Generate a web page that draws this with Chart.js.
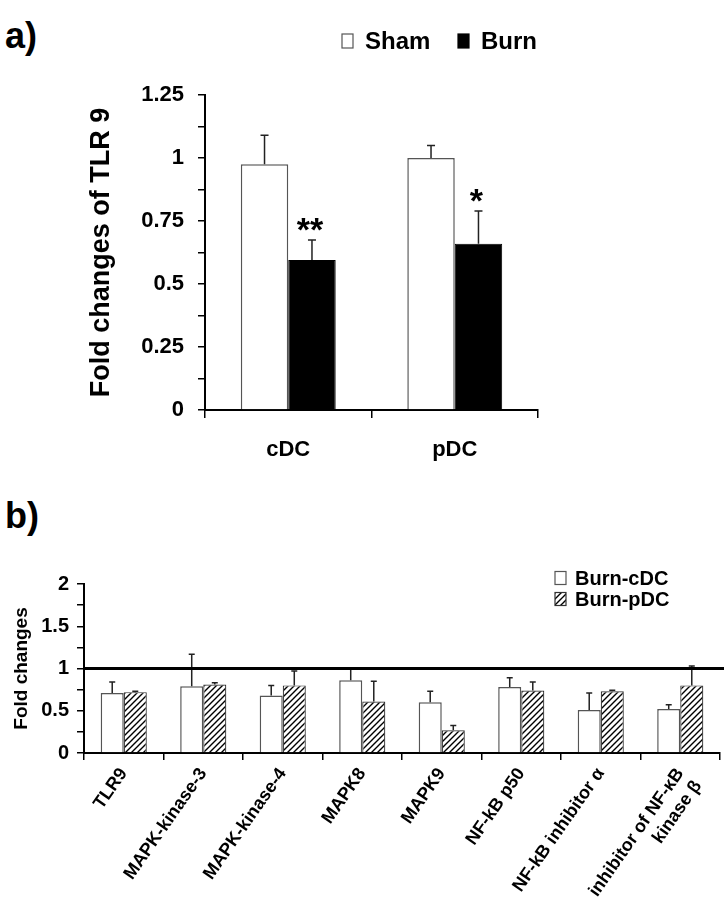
<!DOCTYPE html>
<html>
<head>
<meta charset="utf-8">
<script src="https://cdn.jsdelivr.net/npm/chart.js@4.4.1/dist/chart.umd.min.js"></script>
<style>
  body { margin: 0; background: #fff; width: 725px; height: 915px; position: relative; overflow: hidden; }
  .tag { position: absolute; left: 5px; font: bold 36px 'Liberation Sans', Arial, sans-serif; color: #000; }
  #wrapA { position: absolute; left: 0; top: 0; width: 725px; height: 470px; }
  #wrapB { position: absolute; left: 0; top: 470px; width: 725px; height: 445px; }
</style>
</head>
<body>
<div class="tag" style="top:15px">a)</div>
<div class="tag" style="top:495px">b)</div>
<div id="wrapA"><canvas id="chartA" width="725" height="470"></canvas></div>
<div id="wrapB"><canvas id="chartB" width="725" height="445"></canvas></div>
<script>
// a) TLR9 en cDC / pDC
const cellTypes = ['cDC', 'pDC'];
const shamTLR9 = [0.975, 1.0];
const shamTLR9Err = [0.115, 0.05];
const burnTLR9 = [0.595, 0.66];
const burnTLR9Err = [0.08, 0.13];
const burnStars = ['**', '*'];
const ticksA = [0, 0.25, 0.5, 0.75, 1, 1.25];

// b) genes, burn vs sham (sham = 1)
const genes = ['TLR9', 'MAPK-kinase-3', 'MAPK-kinase-4', 'MAPK8', 'MAPK9', 'NF-kB p50',
  'NF-kB inhibitor α', ['inhibitor of NF-κB', 'kinase β']];
const burnCDC = [0.71, 0.79, 0.68, 0.86, 0.60, 0.78, 0.51, 0.52];
const burnCDCErr = [0.13, 0.38, 0.12, 0.13, 0.13, 0.11, 0.20, 0.05];
const burnPDC = [0.72, 0.81, 0.80, 0.61, 0.27, 0.74, 0.73, 0.80];
const burnPDCErr = [0.01, 0.02, 0.17, 0.24, 0.055, 0.10, 0.012, 0.23];
const ticksB = [0, 0.5, 1, 1.5, 2];
const shamLevel = 1;

const FONT = "'Liberation Sans', Arial, sans-serif";
Chart.defaults.font.family = FONT;
Chart.defaults.font.weight = 'bold';
Chart.defaults.color = '#000';

function hatch() {
  const c = document.createElement('canvas');
  c.width = 6; c.height = 6;
  const g = c.getContext('2d');
  g.fillStyle = '#fff';
  g.fillRect(0, 0, 6, 6);
  g.strokeStyle = '#000';
  g.lineWidth = 1.4;
  g.beginPath();
  g.moveTo(-1, 7); g.lineTo(7, -1);
  g.moveTo(-4, 4); g.lineTo(4, -4);
  g.moveTo(2, 10); g.lineTo(10, 2);
  g.stroke();
  return g.createPattern(c, 'repeat');
}

// barras de error (solo hacia arriba) + asteriscos
const errorBars = {
  id: 'errorBars',
  afterDatasetsDraw(chart, args, o) {
    const ctx = chart.ctx, y = chart.scales.y;
    ctx.save();
    chart.data.datasets.forEach((ds, i) => {
      const meta = chart.getDatasetMeta(i);
      meta.data.forEach((bar, j) => {
        const top = y.getPixelForValue(ds.data[j] + ds.errors[j]);
        ctx.strokeStyle = '#222';
        ctx.lineWidth = 1.5;
        ctx.beginPath();
        ctx.moveTo(bar.x, bar.y);
        ctx.lineTo(bar.x, top);
        ctx.moveTo(bar.x - o.cap / 2, top);
        ctx.lineTo(bar.x + o.cap / 2, top);
        ctx.stroke();
        if (ds.stars && ds.stars[j]) {
          ctx.fillStyle = '#000';
          ctx.font = 'bold 34px ' + FONT;
          ctx.textAlign = 'center';
          ctx.textBaseline = 'alphabetic';
          ctx.fillText(ds.stars[j], bar.x - 2, top + 1);
        }
      });
    });
    ctx.restore();
  }
};

const boxLegend = {
  id: 'boxLegend',
  afterDraw(chart, args, o) {
    const ctx = chart.ctx;
    ctx.save();
    ctx.font = o.font;
    ctx.textBaseline = 'middle';
    ctx.textAlign = 'left';
    chart.data.datasets.forEach((ds, i) => {
      const x = o.x + o.dx * i, y = o.y + o.dy * i;
      ctx.fillStyle = ds.backgroundColor;
      ctx.fillRect(x, y - o.boxH / 2, o.boxW, o.boxH);
      ctx.strokeStyle = ds.borderColor;
      ctx.lineWidth = 1.2;
      ctx.strokeRect(x, y - o.boxH / 2, o.boxW, o.boxH);
      ctx.fillStyle = '#000';
      ctx.fillText(ds.label, x + o.boxW + o.gap, y + 1);
    });
    ctx.restore();
  }
};

const refLine = {
  id: 'refLine',
  afterDatasetsDraw(chart, args, o) {
    const ctx = chart.ctx, py = chart.scales.y.getPixelForValue(o.value);
    ctx.save();
    ctx.strokeStyle = '#000';
    ctx.lineWidth = 3;
    ctx.beginPath();
    ctx.moveTo(chart.chartArea.left, py);
    ctx.lineTo(chart.width - 1, py);
    ctx.stroke();
    ctx.restore();
  }
};

const axisLine = { color: '#000', width: 2 };

new Chart(document.getElementById('chartA'), {
  type: 'bar',
  data: {
    labels: cellTypes,
    datasets: [
      { label: 'Sham', data: shamTLR9, errors: shamTLR9Err, backgroundColor: '#fff', borderColor: '#555', borderWidth: 1.5 },
      { label: 'Burn', data: burnTLR9, errors: burnTLR9Err, stars: burnStars, backgroundColor: '#000', borderColor: '#000', borderWidth: 1 }
    ]
  },
  options: {
    responsive: false,
    animation: false,
    layout: { padding: { left: 0, top: 95, right: 187, bottom: 0 } },
    datasets: { bar: { categoryPercentage: 0.57, barPercentage: 1 } },
    plugins: {
      legend: { display: false },
      tooltip: { enabled: false },
      errorBars: { cap: 8 },
      boxLegend: { x: 342, y: 41, dx: 116, dy: 0, boxW: 11, boxH: 14, gap: 12, font: 'bold 24px ' + FONT }
    },
    scales: {
      x: {
        afterFit: s => { s.height = 60; },
        grid: { drawOnChartArea: false, tickLength: 8, color: '#000', lineWidth: 1.5 },
        border: axisLine,
        ticks: { font: { size: 22 }, padding: 19 }
      },
      y: {
        min: 0, max: 1.25,
        afterFit: s => { s.width = 205; },
        grid: { drawOnChartArea: false, tickLength: 7, color: '#000', lineWidth: 1.5 },
        border: axisLine,
        ticks: {
          stepSize: 0.125, autoSkip: false, padding: 14, font: { size: 22 },
          callback: v => ticksA.some(t => Math.abs(t - v) < 1e-6) ? String(+v.toFixed(2)) : ''
        },
        title: { display: true, text: 'Fold changes of TLR 9', font: { size: 27, lineHeight: 1 }, padding: { top: 88 } }
      }
    }
  },
  plugins: [errorBars, boxLegend]
});

new Chart(document.getElementById('chartB'), {
  type: 'bar',
  data: {
    labels: genes,
    datasets: [
      { label: 'Burn-cDC', data: burnCDC, errors: burnCDCErr, backgroundColor: '#fff', borderColor: '#555', borderWidth: 1.5 },
      { label: 'Burn-pDC', data: burnPDC, errors: burnPDCErr, backgroundColor: hatch(), borderColor: '#333', borderWidth: 1.2 }
    ]
  },
  options: {
    responsive: false,
    animation: false,
    layout: { padding: { left: 0, top: 114, right: 5, bottom: 0 } },
    datasets: { bar: { categoryPercentage: 0.58, barPercentage: 1 } },
    plugins: {
      legend: { display: false },
      tooltip: { enabled: false },
      errorBars: { cap: 6 },
      refLine: { value: shamLevel },
      boxLegend: { x: 555, y: 108, dx: 0, dy: 21, boxW: 11, boxH: 13, gap: 9, font: 'bold 20px ' + FONT }
    },
    scales: {
      x: {
        afterFit: s => { s.height = 162; },
        grid: { drawOnChartArea: false, tickLength: 7, color: '#000', lineWidth: 1.5 },
        border: axisLine,
        ticks: { font: { size: 18 }, minRotation: 55, maxRotation: 55, padding: 4, autoSkip: false }
      },
      y: {
        min: 0, max: 2,
        afterFit: s => { s.width = 84; },
        grid: { drawOnChartArea: false, tickLength: 7, color: '#000', lineWidth: 1.5 },
        border: axisLine,
        ticks: {
          stepSize: 0.25, autoSkip: false, padding: 8, font: { size: 20 },
          callback: v => ticksB.some(t => Math.abs(t - v) < 1e-6) ? String(+v.toFixed(2)) : ''
        },
        title: { display: true, text: 'Fold changes', font: { size: 19, lineHeight: 1 }, padding: { top: 12 } }
      }
    }
  },
  plugins: [errorBars, refLine, boxLegend]
});
</script>
</body>
</html>
